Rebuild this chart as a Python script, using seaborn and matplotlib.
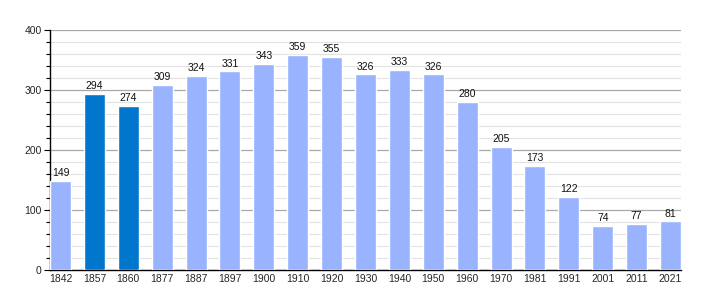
import matplotlib
matplotlib.use("Agg")
import matplotlib.pyplot as plt
from matplotlib.ticker import MultipleLocator
import seaborn as sns
import pandas as pd

years = ["1842", "1857", "1860", "1877", "1887", "1897", "1900", "1910", "1920",
         "1930", "1940", "1950", "1960", "1970", "1981", "1991", "2001", "2011", "2021"]
population = [149, 294, 274, 309, 324, 331, 343, 359, 355,
              326, 333, 326, 280, 205, 173, 122, 74, 77, 81]
highlighted = ["1857", "1860"]

light = "#99b3ff"
dark = "#0077cc"

sns.set_theme(style="white")
plt.rcParams["font.family"] = ["Liberation Sans", "DejaVu Sans"]

df = pd.DataFrame({"year": years, "pop": population})
palette = {y: (dark if y in highlighted else light) for y in years}

fig = plt.figure(figsize=(7.1, 3.0), dpi=100)
ax = fig.add_axes([50 / 710, 30 / 300, 631 / 710, 240 / 300])

width = 0.62
sns.barplot(data=df, x="year", y="pop", hue="year", palette=palette,
            legend=False, width=width, saturation=1, ax=ax, zorder=3)

for c in ax.containers:
    ax.bar_label(c, fmt="%d", padding=2, fontsize=7.5, color="#111111")

ax.set_ylim(0, 400)
ax.set_xlim(-width / 2, len(years) - 1 + width / 2)
ax.yaxis.set_major_locator(MultipleLocator(100))
ax.yaxis.set_minor_locator(MultipleLocator(20))
ax.grid(which="major", axis="y", color="#a8a8a8", linewidth=0.9, zorder=0)
ax.grid(which="minor", axis="y", color="#e2e2e2", linewidth=0.8, zorder=0)
ax.set_axisbelow(True)

ax.tick_params(axis="y", which="major", length=4, width=0.8, color="black",
               labelsize=7.5, pad=2, left=True)
ax.tick_params(axis="y", which="minor", length=3, width=0.8, color="black", left=True)
ax.tick_params(axis="x", length=0, labelsize=7.5, pad=3)

for side in ["top", "right"]:
    ax.spines[side].set_visible(False)
ax.spines["left"].set_color("black")
ax.spines["bottom"].set_color("black")
ax.spines["left"].set_linewidth(1.0)
ax.spines["bottom"].set_linewidth(1.0)

ax.set_xlabel("")
ax.set_ylabel("")

fig.savefig("out.png", dpi=100, facecolor="white")
